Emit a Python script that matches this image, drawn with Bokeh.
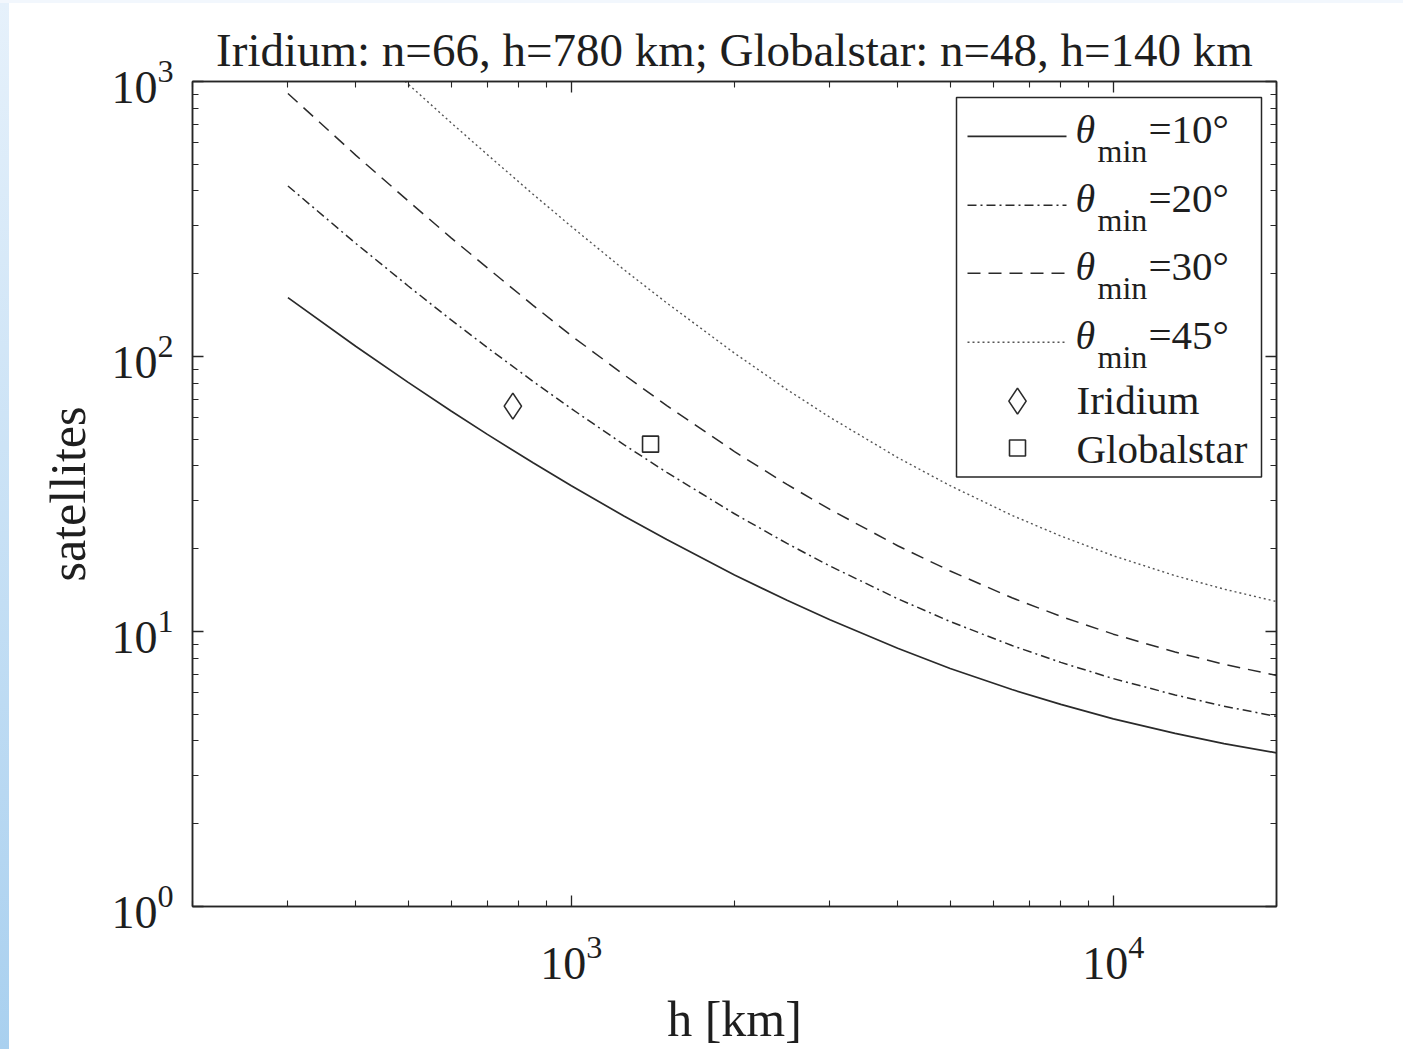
import math
from bokeh.plotting import figure
from bokeh.models import Label, FixedTicker, LogAxis, CustomJSTickFormatter, LogTickFormatter, Div
from bokeh.layouts import row, column
from bokeh.embed import file_html
from bokeh.resources import INLINE

# ---------------- data ----------------
h_10 = [300, 400, 500, 600, 700, 850, 1000, 1250, 1500, 2000, 2500, 3000, 4000, 5000,
        6500, 8000, 10000, 13000, 16000, 20000]
n_10 = [163.7, 109.0, 80.5, 63.4, 52.1, 41.1, 33.9, 26.3, 21.6, 16.06, 12.98, 11.03, 8.69,
        7.34, 6.15, 5.43, 4.81, 4.26, 3.91, 3.62]

h_20 = [300, 400, 500, 600, 700, 850, 1000, 1250, 1500, 2000, 2500, 3000, 4000, 5000,
        6500, 8000, 10000, 13000, 16000, 20000]
n_20 = [417, 258, 180.5, 135.9, 107.7, 81.2, 64.6, 47.8, 37.9, 26.8, 20.9, 17.3, 13.16,
        10.87, 8.89, 7.72, 6.74, 5.88, 5.35, 4.91]

h_30 = [300, 400, 500, 600, 700, 850, 1000, 1250, 1500, 2000, 2500, 3000, 4000, 5000,
        6500, 8000, 10000, 13000, 16000, 20000]
n_30 = [904, 540, 368, 270, 210, 153.5, 119.0, 85.9, 66.3, 45.1, 34.25, 27.8, 20.5, 16.6,
        13.26, 11.35, 9.78, 8.42, 7.60, 6.92]

h_45 = [300, 400, 500, 600, 700, 850, 1000, 1250, 1500, 2000, 2500, 3000, 4000, 5000,
        6500, 8000, 10000, 13000, 16000, 20000]
n_45 = [2500, 1467, 978, 708, 542, 389, 297, 207, 156.6, 102.8, 75.8, 60.1, 42.9, 33.9,
        26.45, 22.24, 18.85, 15.96, 14.26, 12.85]

iridium_h = [780]
iridium_n = [66]
globalstar_h = [1400]
globalstar_n = [48]

legend_labels = ["=10°", "=20°", "=30°", "=45°"]
title_text = "Iridium: n=66, h=780 km; Globalstar: n=48, h=140 km"
x_label = "h [km]"
y_label = "satellites"
x_major = [1000, 10000]
y_major = [1, 10, 100, 1000]

# ---------------- layout constants (page pixels) ----------------
X0, X1 = 200, 20000
Y0, Y1 = 1, 1000
PAGE_OX, PAGE_OY = 9, 3              # figure origin on page
FL, FT, FW, FH = 192, 81, 1084, 826  # frame in page px
FIG_W, FIG_H = 1403 - PAGE_OX, 1049 - PAGE_OY

def px_x(px):
    return 10 ** (math.log10(X0) + (px - FL) / FW * (math.log10(X1) - math.log10(X0)))

def px_y(py):
    return 10 ** (math.log10(Y0) + (FT + FH - py) / FH * (math.log10(Y1) - math.log10(Y0)))

INK = "#262626"
LINE = "#2a2a2a"
TXT = "#1e1e1e"
FONT = "Liberation Serif"

p = figure(width=FIG_W, height=FIG_H, x_axis_type="log", y_axis_type="log",
           x_range=(X0, X1), y_range=(Y0, Y1), output_backend="svg",
           toolbar_location=None, title=title_text,
           min_border_left=FL - PAGE_OX, min_border_top=FT - PAGE_OY,
           min_border_right=FIG_W - (FL + FW - PAGE_OX),
           min_border_bottom=FIG_H - (FT + FH - PAGE_OY))
p.title.text_font = FONT
p.title.text_font_size = "47px"
p.title.text_font_style = "normal"
p.title.text_color = TXT
p.title.align = "center"
p.title.standoff = 11
p.xgrid.visible = False
p.ygrid.visible = False
p.background_fill_color = "white"
p.border_fill_color = "white"
p.outline_line_color = INK
p.outline_line_width = 1.5

x_ticker = FixedTicker(ticks=x_major,
                       minor_ticks=[200, 300, 400, 500, 600, 700, 800, 900,
                                    2000, 3000, 4000, 5000, 6000, 7000, 8000, 9000, 20000])
y_ticker = FixedTicker(ticks=y_major,
                       minor_ticks=[2, 3, 4, 5, 6, 7, 8, 9, 20, 30, 40, 50, 60, 70, 80, 90,
                                    200, 300, 400, 500, 600, 700, 800, 900])

top_ax = LogAxis()
right_ax = LogAxis()
p.add_layout(top_ax, "above")
p.add_layout(right_ax, "right")

for ax in p.xaxis:
    ax.ticker = x_ticker
for ax in p.yaxis:
    ax.ticker = y_ticker
for ax in list(p.xaxis) + list(p.yaxis):
    ax.major_tick_in = 11
    ax.major_tick_out = 0
    ax.minor_tick_in = 6
    ax.minor_tick_out = 0
    ax.major_tick_line_color = INK
    ax.minor_tick_line_color = INK
    ax.major_tick_line_width = 1.3
    ax.minor_tick_line_width = 1.1
    ax.axis_line_color = INK
    ax.axis_line_width = 1.5
    ax.major_label_text_font = FONT
    ax.major_label_text_font_size = "46px"
    ax.major_label_text_color = TXT
    ax.axis_label_text_font = FONT
    ax.axis_label_text_font_size = "50px"
    ax.axis_label_text_font_style = "normal"
    ax.axis_label_text_color = TXT

for ax in (top_ax, right_ax):
    ax.formatter = CustomJSTickFormatter(code="return ''")
    ax.major_label_standoff = 0

bx = p.below[0]
ly = p.left[0]
bx.formatter = LogTickFormatter()
ly.formatter = LogTickFormatter()
bx.major_label_standoff = 30
ly.major_label_standoff = 19
bx.axis_label = x_label
ly.axis_label = y_label
bx.axis_label_standoff = 9
ly.axis_label_standoff = 12

# ---------------- curves ----------------
styles = [
    dict(line_color=LINE, line_width=1.7),
    dict(line_color=LINE, line_width=1.5, line_dash="9 4 2 4"),
    dict(line_color=LINE, line_width=1.5, line_dash="13 8"),
    dict(line_color="#555555", line_width=1.4, line_dash="2 3"),
]
series = [(h_10, n_10), (h_20, n_20), (h_30, n_30), (h_45, n_45)]
for (hx, ny), st in zip(series, styles):
    p.line(hx, ny, **st)

p.scatter(iridium_h, iridium_n, marker="diamond", size=26, fill_color=None,
          line_color=LINE, line_width=1.6)
p.scatter(globalstar_h, globalstar_n, marker="square", size=16, fill_color=None,
          line_color=LINE, line_width=1.6)

# ---------------- legend (manual) ----------------
p.quad(left=[px_x(956)], right=[px_x(1261)], top=[px_y(97)], bottom=[px_y(477)],
       fill_color="white", line_color=INK, line_width=1.5)
row_y = [136, 205, 273, 342]
for ry, st, lab in zip(row_y, styles, legend_labels):
    p.line([px_x(967), px_x(1066)], [px_y(ry), px_y(ry)], **st)
    p.add_layout(Label(x=px_x(1075), y=px_y(ry - 7), text="θ", text_font=FONT,
                       text_font_style="italic", text_font_size="40px", text_color=TXT,
                       text_align="left", text_baseline="middle"))
    p.add_layout(Label(x=px_x(1097), y=px_y(ry + 15), text="min", text_font=FONT,
                       text_font_size="32px", text_color=TXT,
                       text_align="left", text_baseline="middle"))
    p.add_layout(Label(x=px_x(1148), y=px_y(ry - 7), text=lab, text_font=FONT,
                       text_font_size="41px", text_color=TXT,
                       text_align="left", text_baseline="middle"))

p.scatter([px_x(1017)], [px_y(401)], marker="diamond", size=26, fill_color=None,
          line_color=LINE, line_width=1.6)
p.scatter([px_x(1017)], [px_y(448)], marker="square", size=16, fill_color=None,
          line_color=LINE, line_width=1.6)
p.add_layout(Label(x=px_x(1076), y=px_y(400), text="Iridium", text_font=FONT,
                   text_font_size="41px", text_color=TXT, text_align="left",
                   text_baseline="middle"))
p.add_layout(Label(x=px_x(1076), y=px_y(449), text="Globalstar", text_font=FONT,
                   text_font_size="41px", text_color=TXT, text_align="left",
                   text_baseline="middle"))

# ---------------- page edge strips ----------------
top_strip = Div(width=1403, height=PAGE_OY, margin=(0, 0, 0, 0),
                styles={"background": "#f2f7fd"})
left_strip = Div(width=PAGE_OX, height=FIG_H, margin=(0, 0, 0, 0),
                 styles={"background": "linear-gradient(to bottom, #e6f1fb, #a9d0ef)"})
layout = column(top_strip, row(left_strip, p, spacing=0), spacing=0)

open("out.html", "w").write(file_html(layout, INLINE))
